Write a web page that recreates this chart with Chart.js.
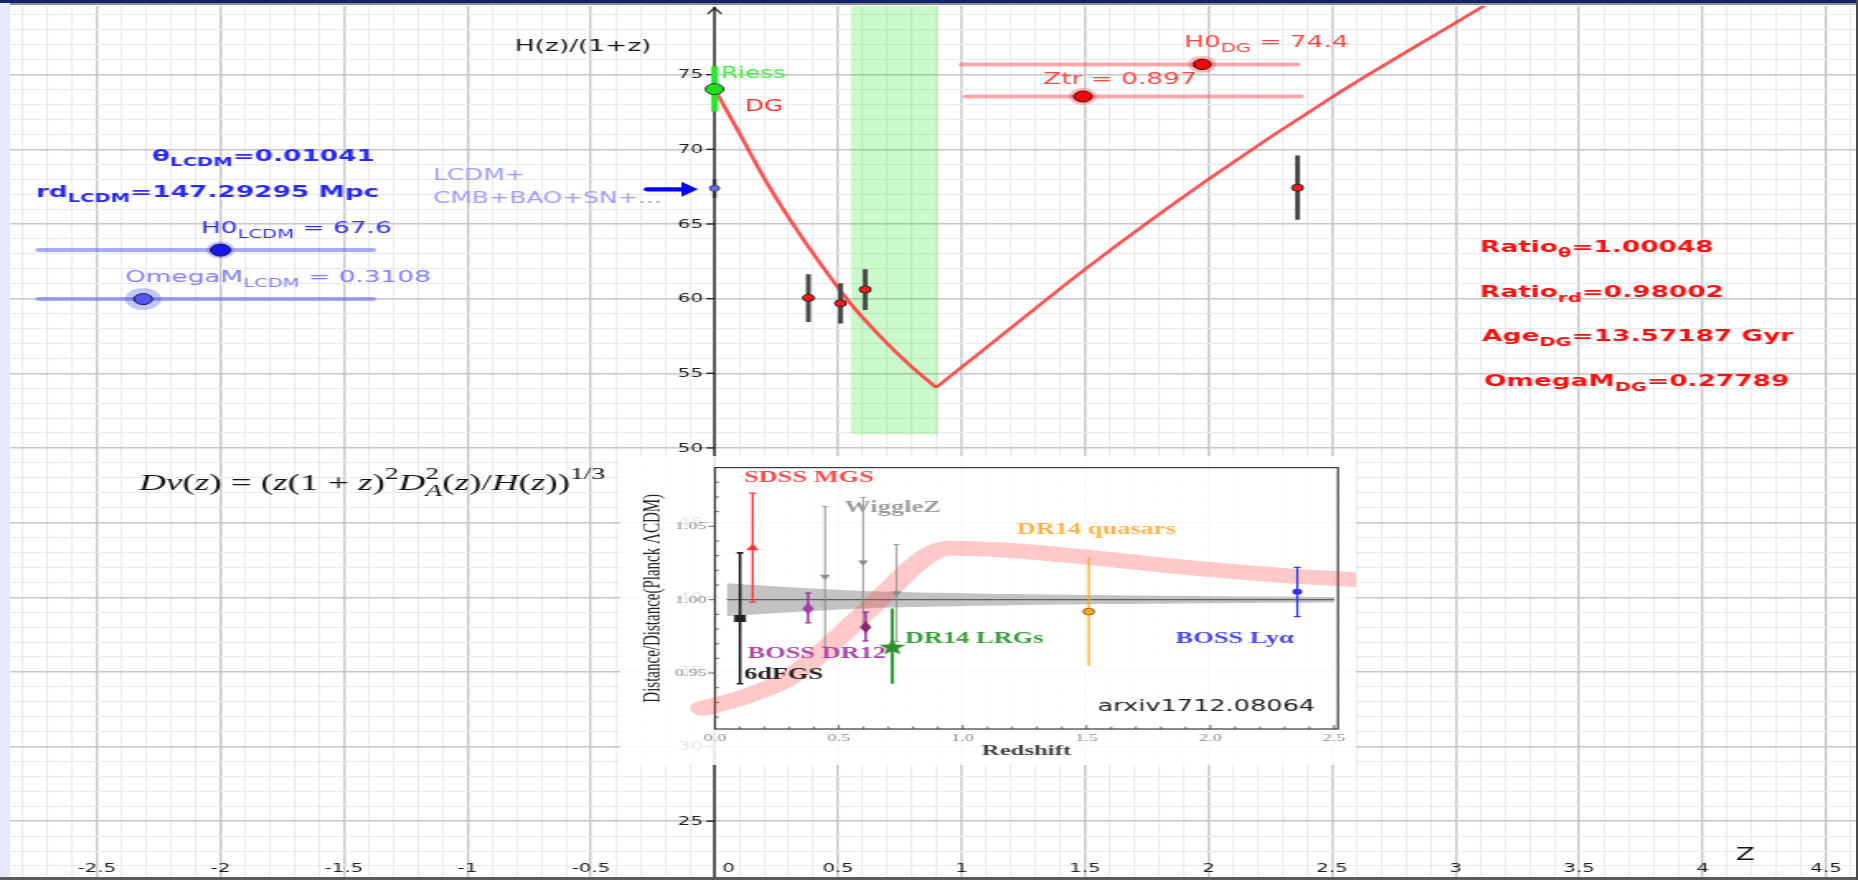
<!DOCTYPE html>
<html>
<head>
<meta charset="utf-8">
<title>H(z)/(1+z) - DG vs LCDM</title>
<script src="https://cdn.jsdelivr.net/npm/chart.js@4.4.1/dist/chart.umd.min.js"></script>
<style>
  html, body { margin: 0; padding: 0; background: #fff; overflow: hidden; }
  body { position: relative; width: 1858px; height: 880px; }
  .band { position: absolute; }
  .stretch { position: absolute; transform-origin: 0 0; transform: scaleX(1.6497); }
  canvas { display: block; }
</style>
</head>
<body>
<div class="band" style="left:0;top:0;width:10px;height:880px;background:#e7e7fd"></div>
<div class="band" style="left:0;top:0;width:1858px;height:3px;background:#13236a"></div>
<div class="band" style="left:10px;top:3px;width:1848px;height:2px;background:#8c8c8c"></div>
<div class="stretch" style="left:10px;top:6px"><canvas id="main" width="1119" height="871" style="width:1119px;height:871px"></canvas></div>
<div class="stretch" style="left:620px;top:456px"><canvas id="inset" width="446" height="309" style="width:446px;height:309px;background:rgba(255,255,255,0.88)"></canvas></div>
<div class="band" style="left:0;top:877px;width:1858px;height:3px;background:#5c5c5c"></div>
<div class="band" style="left:1856px;top:0;width:2px;height:880px;background:#4a4a4a"></div>
<script>
// ---- main panel data: H(z)/(1+z) ----
const xTickLabels = [-2.5, -2, -1.5, -1, -0.5, 0, 0.5, 1, 1.5, 2, 2.5, 3, 3.5, 4, 4.5];
const yTickLabels = [25, 30, 35, 40, 45, 50, 55, 60, 65, 70, 75];

const dgLowZ = [0, 0.1, 0.2, 0.3, 0.42, 0.55, 0.66, 0.79, 0.897];
const dgLowH = [74.03, 71.1, 68.1, 65.43, 62.53, 59.68, 57.66, 55.55, 54.05];
const dgHighZ = [0.897, 1.0, 1.25, 1.5, 2.0, 2.5, 3.13, 3.25];
const dgHighH = [54.05, 55.4, 58.7, 61.97, 68.0, 73.5, 79.77, 81.0];

const obsZ = [0.38, 0.51, 0.61, 2.36];
const obsH = [60.05, 59.69, 60.61, 67.43];
const obsLo = [58.44, 58.33, 59.24, 65.29];
const obsHi = [61.64, 61.03, 61.97, 69.58];

const riessZ = [0], riessH = [74.03], riessLo = [72.54], riessHi = [75.56];
const lcdmZ = [0], lcdmH = [67.39], lcdmLo = [66.74], lcdmHi = [68.0];

const trBandZ = [0.55, 0.907];
const trBandFloor = 50.9;

// ---- inset data: Distance / Distance(Planck LCDM) ----
const insetXTicks = [0, 0.5, 1, 1.5, 2, 2.5];
const insetYTicks = [0.95, 1.0, 1.05];

const dgRatioZ = [-0.05, 0.0, 0.14, 0.28, 0.41, 0.54, 0.68, 0.81, 0.88, 0.95, 1.15, 1.5, 1.9, 2.29, 2.62];
const dgRatioV = [0.926, 0.928, 0.935, 0.945, 0.961, 0.981, 1.003, 1.024, 1.032, 1.035, 1.034, 1.029, 1.022, 1.0166, 1.0133];

const lcdmBandZ = [0.047, 0.3, 0.6, 0.9, 1.2, 1.6, 2.0, 2.5];
const lcdmBandHi = [1.0112, 1.0085, 1.006, 1.0047, 1.0038, 1.003, 1.0024, 1.0019];
const lcdmBandLo = [0.9888, 0.9915, 0.994, 0.9953, 0.9962, 0.997, 0.9976, 0.9981];

const sixdfZ = [0.101], sixdfV = [0.9872], sixdfLo = [0.9427], sixdfHi = [1.0319];
const mgsZ = [0.152], mgsV = [1.0353], mgsLo = [0.9984], mgsHi = [1.0726];
const wigZ = [0.444, 0.598, 0.733], wigV = [1.0157, 1.0254, 1.0045];
const wigLo = [0.968, 0.981, 0.9715], wigHi = [1.0634, 1.0697, 1.0375];
const dr12Z = [0.376, 0.608], dr12V = [0.9939, 0.9813];
const dr12Lo = [0.9843, 0.9719], dr12Hi = [1.0045, 0.9915];
const lrgZ = [0.716], lrgV = [0.9679], lrgLo = [0.9427], lrgHi = [0.994];
const qsoZ = [1.509], qsoV = [0.9919], qsoLo = [0.955], qsoHi = [1.029];
const lyaZ = [2.351], lyaV = [1.0054], lyaLo = [0.9885], lyaHi = [1.022];

// ---- view / decorations ----
const X_MIN = -2.852, X_MAX = 4.621, Y_MIN = 21.26, Y_MAX = 79.6;

const sliders = [
  { from: -2.736, to: -1.383, y: 63.25, at: -2.0, track: 'rgba(85,85,255,0.5)', knob: '#1515ff', halo: 'rgba(80,80,255,0.35)', r: 6, hr: 8.5 },
  { from: -2.736, to: -1.383, y: 59.97, at: -2.313, track: 'rgba(85,85,255,0.5)', knob: '#5353ff', halo: 'rgba(90,90,255,0.35)', r: 5.5, hr: 11 },
  { from: 1.002, to: 2.358, y: 75.69, at: 1.974, track: 'rgba(255,80,80,0.5)', knob: '#ff0000', halo: 'rgba(255,60,60,0.35)', r: 5.3, hr: 8.5 },
  { from: 1.018, to: 2.373, y: 73.54, at: 1.4915, track: 'rgba(255,80,80,0.5)', knob: '#ff0000', halo: 'rgba(255,60,60,0.35)', r: 5.5, hr: 8.5 }
];

const arrow = { from: -0.273, to: -0.067, y: 67.32 };

const notes = [
  { at: [-0.808, 76.89], size: 16, color: '#161616', parts: [['H(z)/(1+z)']] },
  { at: [-2.277, 69.48], size: 16, bold: true, color: '#2a2aff', parts: [['θ'], ['LCDM', 1], ['=0.01041']] },
  { at: [-2.747, 67.09], size: 16, bold: true, color: '#2a2aff', parts: [['rd'], ['LCDM', 1], ['=147.29295 Mpc']] },
  { at: [-2.079, 64.66], size: 16, color: '#2d2dff', parts: [['H0'], ['LCDM', 1], [' = 67.6']] },
  { at: [-2.387, 61.38], size: 16, color: '#7d7dff', parts: [['OmegaM'], ['LCDM', 1], [' = 0.3108']] },
  { at: [-1.139, 68.23], size: 15, color: '#9c9cff', parts: [['LCDM+']] },
  { at: [-1.139, 66.65], size: 15, color: '#9c9cff', parts: [['CMB+BAO+SN+...']] },
  { at: [0.026, 75.04], size: 15, color: '#3cf03c', parts: [['Riess']] },
  { at: [0.123, 72.85], size: 15, color: '#ff2a2a', parts: [['DG']] },
  { at: [1.330, 74.64], size: 16, color: '#ff4444', parts: [['Ztr = 0.897']] },
  { at: [1.901, 77.10], size: 16, color: '#ff4444', parts: [['H0'], ['DG', 1], [' = 74.4']] },
  { at: [3.099, 63.39], size: 16, bold: true, color: '#ff1010', parts: [['Ratio'], ['θ', 1], ['=1.00048']] },
  { at: [3.099, 60.37], size: 16, bold: true, color: '#ff1010', parts: [['Ratio'], ['rd', 1], ['=0.98002']] },
  { at: [3.107, 57.42], size: 16, bold: true, color: '#ff1010', parts: [['Age'], ['DG', 1], ['=13.57187 Gyr']] },
  { at: [3.115, 54.41], size: 16, bold: true, color: '#ff1010', parts: [['OmegaM'], ['DG', 1], ['=0.27789']] },
  { at: [4.172, 22.69], size: 17, color: '#111', center: true, parts: [['Z']] },
  { at: [-2.33, 47.6], size: 22.5, color: '#111', serif: true, parts: [
    ['Dv', 0, 1], ['(', 0], ['z', 0, 1], [') = (', 0], ['z', 0, 1], ['(1 + ', 0], ['z', 0, 1], [')', 0], ['2', 2],
    ['D', 0, 1], ['A', 1, 1], ['2', 3], ['(', 0], ['z', 0, 1], [')/', 0], ['H', 0, 1], ['(', 0], ['z', 0, 1], ['))', 0], ['1/3', 2]
  ] }
];

const insetNotes = [
  { at: [0.117, 1.0829], text: 'SDSS MGS', color: '#ff4a4a' },
  { at: [0.523, 1.0627], text: 'WiggleZ', color: '#9c9c9c' },
  { at: [1.218, 1.0476], text: 'DR14 quasars', color: '#ffb347' },
  { at: [0.767, 0.9735], text: 'DR14 LRGs', color: '#3a9e3a' },
  { at: [1.86, 0.9735], text: 'BOSS Lyα', color: '#4848f0' },
  { at: [0.131, 0.9631], text: 'BOSS DR12', color: '#a848a8' },
  { at: [0.117, 0.9485], text: '6dFGS', color: '#222' },
  { at: [1.545, 0.9267], text: 'arxiv1712.08064', color: '#222', sans: true }
];

Chart.defaults.font.family = '"DejaVu Sans", sans-serif';

const pts = (zs, vs) => zs.map((z, i) => ({ x: z, y: vs[i] }));
const bars = (zs, lo, hi) => zs.flatMap((z, i) => [{ x: z, y: lo[i] }, { x: z, y: hi[i] }, { x: z, y: null }]);
const isMajor = (v, step) => Math.abs(v / step - Math.round(v / step)) < 1e-6;

function range(a, b, step) {
  const out = [];
  for (let v = a; v <= b + 1e-9; v += step) out.push(Math.round(v * 1000) / 1000);
  return out;
}

function drawRich(ctx, x, y, parts, o) {
  let cx = x, subStart = x;
  ctx.textBaseline = 'middle';
  ctx.textAlign = 'left';
  for (const [t, kind = 0, italic = 0] of parts) {
    const fs = kind ? o.size * 0.74 : o.size;
    const fam = o.serif ? '"Liberation Serif", serif' : '"DejaVu Sans", sans-serif';
    ctx.font = `${italic ? 'italic ' : ''}${o.bold ? 'bold ' : ''}${fs}px ${fam}`;
    const dy = kind === 1 ? o.size * 0.36 : (kind >= 2 ? -o.size * 0.42 : 0);
    const px = kind === 3 ? subStart : cx;
    ctx.fillText(t, px, y + dy);
    const w = ctx.measureText(t).width;
    if (kind === 1) subStart = px;
    cx = kind === 3 ? Math.max(cx, px + w) : px + w;
  }
}

// ---- main chart ----
const geoPlugin = {
  id: 'geo',
  beforeDatasetsDraw(chart) {
    const { ctx, chartArea } = chart;
    const { x, y } = chart.scales;
    const x0 = x.getPixelForValue(0);
    ctx.save();
    ctx.strokeStyle = '#1c1c1c';
    ctx.lineWidth = 1.3;
    ctx.beginPath();
    ctx.moveTo(x0, chartArea.bottom);
    ctx.lineTo(x0, chartArea.top + 1);
    ctx.stroke();
    ctx.beginPath();
    ctx.moveTo(x0 - 4.2, chartArea.top + 8);
    ctx.lineTo(x0, chartArea.top + 2);
    ctx.lineTo(x0 + 4.2, chartArea.top + 8);
    ctx.stroke();

    ctx.font = '12px "DejaVu Sans"';
    ctx.fillStyle = '#1c1c1c';
    ctx.textAlign = 'right';
    ctx.textBaseline = 'middle';
    yTickLabels.forEach(v => {
      const py = y.getPixelForValue(v);
      ctx.beginPath();
      ctx.moveTo(x0 - 5, py);
      ctx.lineTo(x0, py);
      ctx.stroke();
      ctx.fillText(String(v), x0 - 7, py + 0.5);
    });
    ctx.textAlign = 'center';
    const by = chartArea.bottom - 8;
    xTickLabels.forEach(v => {
      const px = x.getPixelForValue(v) + (v === 0 ? 8.5 : 0);
      ctx.fillText(String(v), px, by);
    });
    ctx.restore();
  },
  afterDatasetsDraw(chart) {
    const { ctx } = chart;
    const { x, y } = chart.scales;
    ctx.save();
    // blue arrow pointing at the LCDM value
    const ax0 = x.getPixelForValue(arrow.from), ax1 = x.getPixelForValue(arrow.to), ay = y.getPixelForValue(arrow.y);
    ctx.strokeStyle = '#0000ff';
    ctx.fillStyle = '#0000ff';
    ctx.lineWidth = 4.2;
    ctx.lineCap = 'round';
    ctx.beginPath();
    ctx.moveTo(ax0, ay);
    ctx.lineTo(ax1 - 8, ay);
    ctx.stroke();
    ctx.beginPath();
    ctx.moveTo(ax1, ay);
    ctx.lineTo(ax1 - 10, ay - 7.5);
    ctx.lineTo(ax1 - 10, ay + 7.5);
    ctx.closePath();
    ctx.fill();

    notes.forEach(n => {
      ctx.fillStyle = n.color;
      let px = x.getPixelForValue(n.at[0]);
      const py = y.getPixelForValue(n.at[1]);
      if (n.center) {
        ctx.font = `${n.size}px "DejaVu Sans"`;
        px -= ctx.measureText(n.parts.map(p => p[0]).join('')).width / 2;
      }
      drawRich(ctx, px, py, n.parts, n);
    });
    ctx.restore();
  }
};

const gridX = range(-2.8, 4.6, 0.1);
const gridY = range(22, 79, 1);

const mainDatasets = [
  { label: 'transition band', data: trBandZ.map(z => ({ x: z, y: Y_MAX })), fill: { value: trBandFloor },
    backgroundColor: 'rgba(0,225,0,0.2)', borderWidth: 0, pointRadius: 0, order: 30 },
  { label: 'DG z<Ztr', data: pts(dgLowZ, dgLowH), borderColor: 'rgba(255,45,45,0.82)', borderWidth: 2.6,
    pointRadius: 0, cubicInterpolationMode: 'monotone', order: 20 },
  { label: 'DG z>Ztr', data: pts(dgHighZ, dgHighH), borderColor: 'rgba(255,45,45,0.82)', borderWidth: 2.6,
    pointRadius: 0, cubicInterpolationMode: 'monotone', order: 20 },
  { label: 'obs err', data: bars(obsZ, obsLo, obsHi), borderColor: '#474747', borderWidth: 2.9, pointRadius: 0, order: 12 },
  { label: 'Riess err', data: bars(riessZ, riessLo, riessHi), borderColor: 'rgba(40,235,40,0.95)', borderWidth: 4.2, pointRadius: 0, order: 12 },
  { label: 'LCDM err', data: bars(lcdmZ, lcdmLo, lcdmHi), borderColor: '#333', borderWidth: 2.4, pointRadius: 0, order: 12 }
];
sliders.forEach((s, i) => {
  mainDatasets.push({ label: 'track' + i, data: [{ x: s.from, y: s.y }, { x: s.to, y: s.y }], borderColor: s.track,
    borderWidth: 4, borderCapStyle: 'round', pointRadius: 0, order: 15 });
  mainDatasets.push({ label: 'halo' + i, data: [{ x: s.at, y: s.y }], showLine: false, pointRadius: s.hr,
    pointBackgroundColor: s.halo, pointBorderWidth: 0, order: 4 });
  mainDatasets.push({ label: 'knob' + i, data: [{ x: s.at, y: s.y }], showLine: false, pointRadius: s.r,
    pointBackgroundColor: s.knob, pointBorderColor: '#1a1a1a', pointBorderWidth: 1, order: 3 });
});
mainDatasets.push(
  { label: 'obs', data: pts(obsZ, obsH), showLine: false, pointRadius: 3.5, pointBackgroundColor: '#ff1a1a',
    pointBorderColor: '#222', pointBorderWidth: 1, order: 1 },
  { label: 'Riess', data: pts(riessZ, riessH), showLine: false, pointRadius: 5.5, pointBackgroundColor: '#1ee01e',
    pointBorderColor: '#333', pointBorderWidth: 1, order: 1 },
  { label: 'LCDM', data: pts(lcdmZ, lcdmH), showLine: false, pointRadius: 3, pointBackgroundColor: '#6a6aff',
    pointBorderColor: '#333', pointBorderWidth: 0.8, order: 1 }
);

new Chart(document.getElementById('main'), {
  type: 'line',
  data: { datasets: mainDatasets },
  options: {
    responsive: false,
    animation: false,
    devicePixelRatio: 1,
    events: [],
    layout: { autoPadding: false, padding: 0 },
    plugins: { legend: { display: false }, tooltip: { enabled: false } },
    scales: {
      x: {
        type: 'linear', min: X_MIN, max: X_MAX,
        afterBuildTicks: a => { a.ticks = gridX.map(v => ({ value: v })); },
        ticks: { display: false },
        border: { display: false },
        grid: {
          drawTicks: false,
          color: c => isMajor(c.tick.value, 0.5) ? '#c6c6c6' : '#ebebeb',
          lineWidth: c => isMajor(c.tick.value, 0.5) ? 1.4 : 1
        }
      },
      y: {
        type: 'linear', min: Y_MIN, max: Y_MAX,
        afterBuildTicks: a => { a.ticks = gridY.map(v => ({ value: v })); },
        ticks: { display: false },
        border: { display: false },
        grid: {
          drawTicks: false,
          color: c => isMajor(c.tick.value, 5) ? '#c6c6c6' : '#e9e9e9',
          lineWidth: c => isMajor(c.tick.value, 5) ? 1.4 : 1
        }
      }
    }
  },
  plugins: [geoPlugin]
});

// ---- inset chart ----
function markerImg(w, h, draw) {
  const c = document.createElement('canvas');
  c.width = w; c.height = h;
  draw(c.getContext('2d'), w, h);
  return c;
}
const diamond = fill => markerImg(8, 13, (g, w, h) => {
  g.beginPath();
  g.moveTo(w / 2, 0.5); g.lineTo(w - 0.5, h / 2); g.lineTo(w / 2, h - 0.5); g.lineTo(0.5, h / 2);
  g.closePath(); g.fillStyle = fill; g.fill();
});
const star = markerImg(18, 18, (g, w, h) => {
  g.beginPath();
  for (let k = 0; k < 10; k++) {
    const r = k % 2 ? 3.6 : 8.5, a = -Math.PI / 2 + k * Math.PI / 5;
    g.lineTo(w / 2 + r * Math.cos(a), h / 2 + 0.7 + r * Math.sin(a));
  }
  g.closePath(); g.fillStyle = '#2c8f2c'; g.fill();
});

const insetSeries = [
  { z: sixdfZ, v: sixdfV, lo: sixdfLo, hi: sixdfHi, color: '#202020', bar: 1.6, cap: 2, style: 'rect', r: 5 },
  { z: mgsZ, v: mgsV, lo: mgsLo, hi: mgsHi, color: '#ff3535', bar: 1.3, cap: 2.2, style: 'triangle', r: 4.5 },
  { z: wigZ, v: wigV, lo: wigLo, hi: wigHi, color: '#8a8a8a', bar: 0.9, cap: 1.8, style: 'triangle', rot: 180, r: 3.6 },
  { z: dr12Z, v: dr12V, lo: dr12Lo, hi: dr12Hi, color: '#a23ca2', bar: 1.6, cap: 1.8, style: [diamond('#a23ca2'), diamond('#8e1e6e')], r: 5 },
  { z: lrgZ, v: lrgV, lo: lrgLo, hi: lrgHi, color: '#2f9a2f', bar: 2, cap: 0, style: star, r: 6 },
  { z: qsoZ, v: qsoV, lo: qsoLo, hi: qsoHi, color: '#f5a623', bar: 1.2, cap: 0, style: 'circle', r: 3.4, edge: '#9a620c' },
  { z: lyaZ, v: lyaV, lo: lyaLo, hi: lyaHi, color: '#3030f0', bar: 1.3, cap: 2, style: 'circle', r: 3 }
];

const insetDatasets = [
  { label: 'DG ratio', data: pts(dgRatioZ, dgRatioV), borderColor: 'rgba(255,60,60,0.28)', borderWidth: 15,
    borderCapStyle: 'round', borderJoinStyle: 'round', pointRadius: 0, cubicInterpolationMode: 'monotone', clip: false, order: 6 },
  { label: 'band hi', data: pts(lcdmBandZ, lcdmBandHi), fill: '+1', backgroundColor: 'rgba(135,135,135,0.5)',
    borderWidth: 0, pointRadius: 0, tension: 0.3, order: 10 },
  { label: 'band lo', data: pts(lcdmBandZ, lcdmBandLo), borderWidth: 0, pointRadius: 0, tension: 0.3, order: 10 },
  { label: 'LCDM', data: [{ x: lcdmBandZ[0], y: 1 }, { x: lcdmBandZ[lcdmBandZ.length - 1], y: 1 }],
    borderColor: '#606060', borderWidth: 1.3, pointRadius: 0, order: 9 }
];
insetSeries.forEach(s => insetDatasets.push({
  data: pts(s.z, s.v), showLine: false, pointStyle: s.style, pointRotation: s.rot || 0, pointRadius: s.r,
  pointBackgroundColor: s.color, pointBorderColor: s.edge || s.color, pointBorderWidth: s.edge ? 1 : 0, order: 1
}));

const insetPlugin = {
  id: 'insetDecor',
  beforeDatasetsDraw(chart) {
    const { ctx, chartArea: a } = chart;
    const { x, y } = chart.scales;
    ctx.save();
    ctx.strokeStyle = '#3a3a3a';
    ctx.lineWidth = 1.2;
    ctx.strokeRect(a.left, a.top, a.right - a.left, a.bottom - a.top);
    ctx.lineWidth = 0.8;
    range(0.1, 2.5, 0.1).forEach(v => {
      const px = x.getPixelForValue(v), len = isMajor(v, 0.5) ? 4 : 2.5;
      ctx.beginPath(); ctx.moveTo(px, a.bottom); ctx.lineTo(px, a.bottom - len); ctx.stroke();
    });
    range(0.92, 1.08, 0.01).forEach(v => {
      const py = y.getPixelForValue(v);
      ctx.beginPath();
      if (isMajor(v, 0.05)) { ctx.moveTo(a.left - 4, py); ctx.lineTo(a.left, py); }
      else { ctx.moveTo(a.left, py); ctx.lineTo(a.left + 2.5, py); }
      ctx.stroke();
    });
    ctx.restore();
  },
  afterDatasetDraw(chart, args) {
    if (args.index !== 0) return;
    const { ctx } = chart;
    const { x, y } = chart.scales;
    ctx.save();
    insetSeries.forEach(s => {
      ctx.strokeStyle = s.color;
      ctx.lineWidth = s.bar;
      s.z.forEach((z, i) => {
        const px = x.getPixelForValue(z), p0 = y.getPixelForValue(s.lo[i]), p1 = y.getPixelForValue(s.hi[i]);
        ctx.beginPath();
        ctx.moveTo(px, p0); ctx.lineTo(px, p1);
        if (s.cap) {
          ctx.moveTo(px - s.cap, p0); ctx.lineTo(px + s.cap, p0);
          ctx.moveTo(px - s.cap, p1); ctx.lineTo(px + s.cap, p1);
        }
        ctx.stroke();
      });
    });
    ctx.restore();
  },
  afterDatasetsDraw(chart) {
    const { ctx } = chart;
    const { x, y } = chart.scales;
    ctx.save();
    ctx.textAlign = 'left';
    ctx.textBaseline = 'middle';
    insetNotes.forEach(n => {
      ctx.font = n.sans ? '15.5px "DejaVu Sans"' : 'bold 16px "Liberation Serif"';
      ctx.fillStyle = n.color;
      ctx.fillText(n.text, x.getPixelForValue(n.at[0]), y.getPixelForValue(n.at[1]));
    });
    ctx.restore();
  }
};

new Chart(document.getElementById('inset'), {
  type: 'line',
  data: { datasets: insetDatasets },
  options: {
    responsive: false,
    animation: false,
    devicePixelRatio: 1,
    events: [],
    layout: { autoPadding: false, padding: { top: 7, right: 10.8, left: 0, bottom: 0 } },
    plugins: { legend: { display: false }, tooltip: { enabled: false } },
    scales: {
      x: {
        type: 'linear', min: 0, max: 2.515,
        afterBuildTicks: a => { a.ticks = insetXTicks.map(v => ({ value: v })); },
        afterFit: s => { s.height = 36; },
        grid: { display: false, drawTicks: false },
        border: { display: false },
        ticks: { font: { family: '"Liberation Serif"', size: 11 }, color: '#8c8c8c', padding: 3,
          maxRotation: 0, autoSkip: false, callback: v => Number(v).toFixed(1) },
        title: { display: true, text: 'Redshift', color: '#444',
          font: { family: '"Liberation Serif"', size: 15, weight: 'bold' }, padding: { top: 0, bottom: 5 } }
      },
      y: {
        type: 'linear', min: 0.9119, max: 1.09,
        afterBuildTicks: a => { a.ticks = insetYTicks.map(v => ({ value: v })); },
        afterFit: s => { s.width = 57.6; },
        grid: { display: false, drawTicks: false },
        border: { display: false },
        ticks: { font: { family: '"Liberation Serif"', size: 11 }, color: '#8c8c8c', padding: 5,
          callback: v => Number(v).toFixed(2) },
        title: { display: true, text: 'Distance/Distance(Planck ΛCDM)', color: '#222',
          font: { family: '"Liberation Serif"', size: 15 }, padding: { top: 10.8, bottom: 0 } }
      }
    }
  },
  plugins: [insetPlugin]
});
</script>
</body>
</html>
